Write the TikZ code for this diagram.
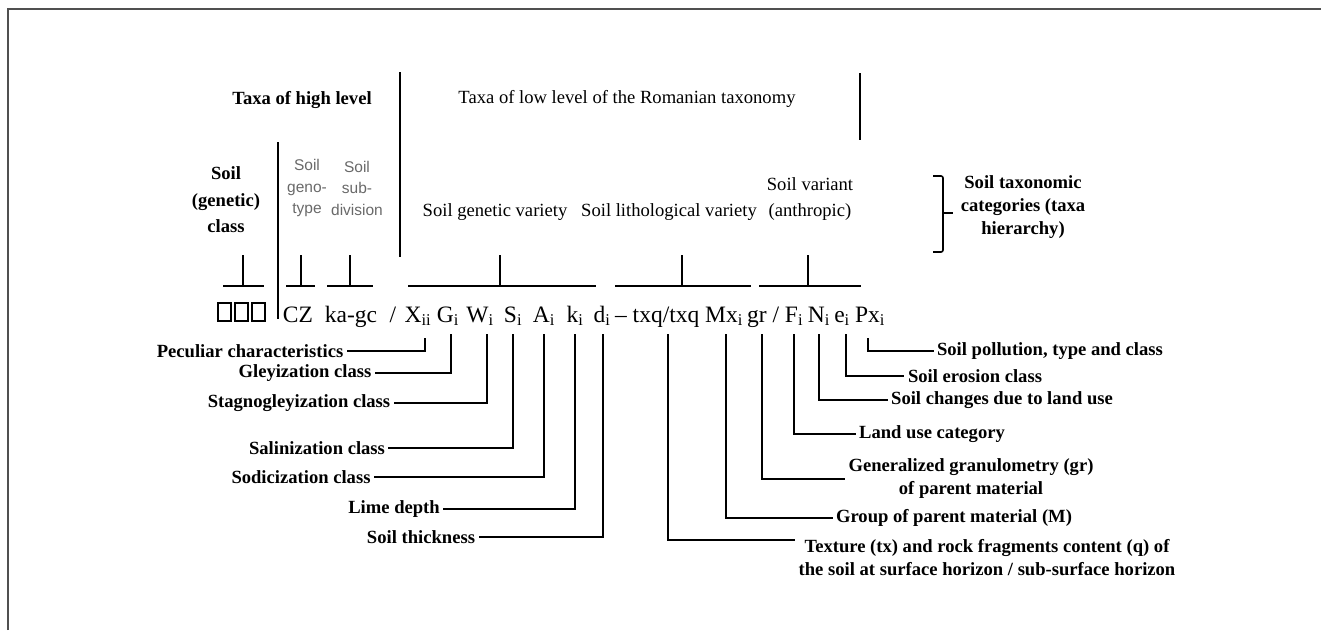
\documentclass[tikz,border=0pt]{standalone}
\usepackage{fontspec}
\setmainfont{Liberation Serif}
\setsansfont{Liberation Sans}
\definecolor{framegray}{RGB}{80,80,80}
\definecolor{labelgray}{RGB}{105,105,105}

\begin{document}
\begin{tikzpicture}[x=1pt, y=-1pt,
    lead/.style={line width=1.6pt},
    lbl/.style={font=\fontsize{18.6}{23}\selectfont\bfseries},
    hdr/.style={font=\fontsize{18.6}{26}\selectfont, align=center},
    sym/.style={font=\fontsize{23.5}{28}\selectfont, anchor=base, inner sep=0pt},
    grey/.style={font=\sffamily\fontsize{15.5}{21.5}\selectfont, text=labelgray, align=center}]

    \useasboundingbox (0,0) rectangle (1321,630);

    % --- 1. Rahmen ---
    \draw[line width=2pt, framegray] (8,630) -- (8,9) -- (1321,9);

    % --- 2. Überschriften ---
    \node[lbl] (high) at (302,100) {Taxa of high level};
    \node[hdr] (low) at (627,99) {Taxa of low level of the Romanian taxonomy};
    \node[lbl, align=center, font=\fontsize{18.6}{26.5}\selectfont\bfseries] (cls) at (226,200) {Soil\\(genetic)\\class};
    \node[grey] (geno) at (307,188) {Soil\\geno-\\type};
    \node[grey] (subd) at (357,188) {Soil\\sub-\\division};
    \node[hdr] (gvar) at (495,212) {Soil genetic variety};
    \node[hdr] (lvar) at (669,212) {Soil lithological variety};
    \node[hdr] (avar) at (810,199) {Soil variant\\(anthropic)};
    \node[lbl, align=center] (cat) at (1023,207) {Soil taxonomic\\categories (taxa\\hierarchy)};

    % --- 3. Trennlinien, Klammer und T-Marken ---
    \draw[lead] (278,142) -- (278,319);
    \draw[lead] (400,72) -- (400,257);
    \draw[lead] (860,73) -- (860,140);
    \draw[lead, rounded corners=2pt] (933,176) -- (943,176) -- (943,252) -- (933,252);
    \draw[lead] (943,213) -- (953,213);
    \foreach \l/\m/\r in {223/243/264, 286/301/315, 327/350/373, 408/500/596, 615/682/751, 759/808/861}
        \draw[lead] (\l,286) -- (\r,286) (\m,255) -- (\m,286);

    % --- 4. Formel ---
    \foreach \x in {218,235,252}
        \draw[line width=2.8pt] (\x,303) rectangle ++(13,18);
    \node[sym] (CZ) at (298,322) {CZ};
    \node[sym] (kagc) at (351,322) {ka-gc};
    \node[sym] (sl1) at (393,322) {/};
    \node[sym] (X) at (418,322) {X\textsubscript{ii}};
    \node[sym] (G) at (448,322) {G\textsubscript{i}};
    \node[sym] (W) at (480,322) {W\textsubscript{i}};
    \node[sym] (S) at (513,322) {S\textsubscript{i}};
    \node[sym] (A) at (544,322) {A\textsubscript{i}};
    \node[sym] (k) at (575,322) {k\textsubscript{i}};
    \node[sym] (d) at (602,322) {d\textsubscript{i}};
    \node[sym] (dash) at (621,322) {--};
    \node[sym] (txq) at (666,322) {txq/txq};
    \node[sym] (M) at (724,322) {Mx\textsubscript{i}};
    \node[sym] (gr) at (757,322) {gr};
    \node[sym] (sl2) at (776,322) {/};
    \node[sym] (F) at (794,322) {F\textsubscript{i}};
    \node[sym] (N) at (819,322) {N\textsubscript{i}};
    \node[sym] (e) at (842,322) {e\textsubscript{i}};
    \node[sym] (P) at (870,322) {Px\textsubscript{i}};
    \coordinate (row) at (0,334);
    \coordinate (lowrow) at (0,338);

    % --- 5. Beschriftungen links ---
    \node[lbl] (pec) at (250,351) {Peculiar characteristics};
    \node[lbl] (gley) at (305,373) {Gleyization class};
    \node[lbl] (stag) at (299,403) {Stagnogleyization class};
    \node[lbl] (sal) at (317,448) {Salinization class};
    \node[lbl] (sod) at (301,477) {Sodicization class};
    \node[lbl] (lime) at (394,509) {Lime depth};
    \node[lbl] (thick) at (421,537) {Soil thickness};

    \draw[lead] ([xshift=7pt]X.base |- lowrow) |- (pec.east);
    \draw[lead] ([xshift=3pt]G.base |- row) |- (gley.east);
    \draw[lead] ([xshift=7pt]W.base |- row) |- (stag.east);
    \draw[lead] (S.base |- row) |- (sal.east);
    \draw[lead] (A.base |- row) |- (sod.east);
    \draw[lead] (k.base |- row) |- (lime.east);
    \draw[lead] ([xshift=1pt]d.base |- row) |- (thick.east);

    % --- 6. Beschriftungen rechts ---
    \node[lbl] (poll) at (1050,351) {Soil pollution, type and class};
    \node[lbl] (eros) at (975,376) {Soil erosion class};
    \node[lbl] (chg) at (1002,400) {Soil changes due to land use};
    \node[lbl] (luse) at (932,434) {Land use category};
    \node[lbl, align=center] (gran) at (971,479) {Generalized granulometry (gr)\\of parent material};
    \node[lbl] (grp) at (954,518) {Group of parent material (M)};
    \node[lbl, align=center] (tex) at (987,558) {Texture (tx) and rock fragments content (q) of\\the soil at surface horizon / sub-surface horizon};

    \draw[lead] ([xshift=-2pt]P.base |- lowrow) |- (poll.west);
    \draw[lead] ([xshift=4pt]e.base |- row) |- (eros.west);
    \draw[lead] (N.base |- row) |- (chg.west);
    \draw[lead] (F.base |- row) |- (luse.west);
    \draw[lead] ([xshift=5pt]gr.base |- row) |- (gran.west);
    \draw[lead] ([xshift=2pt]M.base |- row) |- (grp.west);
    \draw[lead] ([xshift=2pt]txq.base |- row) |- ([yshift=18pt]tex.west);

\end{tikzpicture}
\end{document}
